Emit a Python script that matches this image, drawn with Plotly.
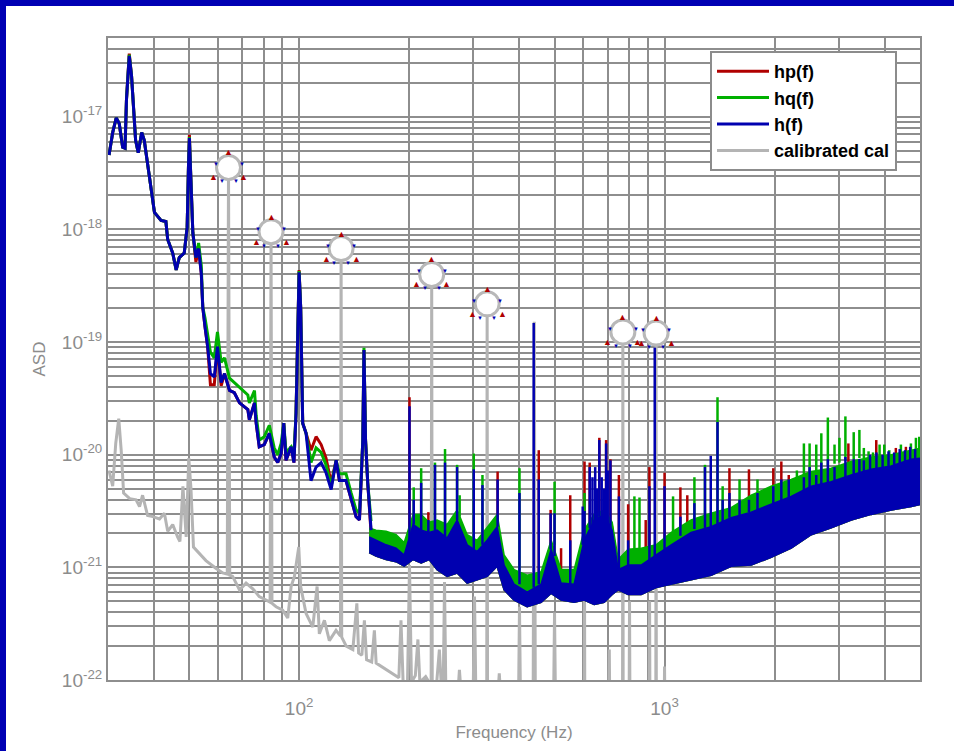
import math
import plotly.graph_objects as go

# ---------------- data (ASD stored as log10 values) ----------------
# Low-frequency part of the three strain spectra (Hz)
lf_freq = [30.2, 30.9, 31.6, 32.2, 32.9, 33.4, 33.7, 34.3, 34.8, 35.2,
           35.7, 36.3, 37.1, 37.7, 38.5, 39.4, 40.2, 41.9, 43.2, 43.7,
           45.1, 46.1, 47.0, 48.5, 49.4, 49.8, 50.1, 50.5, 51.2, 52.2,
           53.1, 54.0, 54.5, 55.3, 56.2, 57.2, 58.6, 59.8, 61.2, 62.5,
           64.5, 66.5, 68.7, 72.4, 73.1, 75.5, 76.3, 77.8, 80.3, 82.9,
           85.5, 87.4, 89.3, 90.8, 92.1, 95.1, 96.8, 98.1, 100.0, 101.0,
           102.3, 104.5, 107.8, 111.3, 114.9, 118.5, 122.4, 126.3, 128.9, 134.4,
           138.8, 143.2, 146.3, 147.9, 149.4, 150.5, 152.0, 154.1, 157.4]
h_lf_log10 = [-17.34, -17.14, -17.01, -17.06, -17.27, -17.28, -16.85, -16.46, -16.64, -16.94,
              -17.21, -17.32, -17.14, -17.21, -17.41, -17.62, -17.85, -17.92, -17.93, -18.09,
              -18.21, -18.36, -18.25, -18.21, -17.98, -17.45, -17.19, -17.50, -18.03, -18.25,
              -18.17, -18.39, -18.69, -18.87, -19.04, -19.28, -19.31, -19.04, -19.36, -19.28,
              -19.43, -19.45, -19.54, -19.60, -19.69, -19.54, -19.72, -19.93, -19.91, -19.81,
              -20.02, -20.07, -19.99, -19.72, -20.05, -19.93, -20.07, -19.63, -18.38, -18.69,
              -19.72, -19.81, -20.23, -20.11, -20.07, -20.16, -20.31, -20.05, -20.23, -20.23,
              -20.40, -20.55, -20.58, -20.16, -19.87, -19.07, -19.87, -20.25, -20.67]
hp_lf_log10 = [-17.34, -17.14, -17.01, -17.06, -17.27, -17.28, -16.85, -16.44, -16.64, -16.94,
               -17.21, -17.32, -17.14, -17.21, -17.41, -17.62, -17.85, -17.92, -17.93, -18.09,
               -18.21, -18.36, -18.25, -18.21, -17.98, -17.45, -17.16, -17.50, -18.03, -18.29,
               -18.17, -18.39, -18.69, -18.87, -19.04, -19.38, -19.38, -19.04, -19.39, -19.28,
               -19.43, -19.45, -19.54, -19.60, -19.69, -19.54, -19.72, -19.93, -19.91, -19.81,
               -20.02, -20.07, -19.99, -19.72, -20.05, -19.93, -20.07, -19.63, -18.36, -18.69,
               -19.72, -19.81, -19.96, -19.84, -19.91, -20.03, -20.25, -20.05, -20.23, -20.23,
               -20.40, -20.55, -20.58, -20.16, -19.87, -19.07, -19.87, -20.25, -20.70]
hq_lf_log10 = [-17.34, -17.14, -17.01, -17.06, -17.27, -17.28, -16.85, -16.45, -16.64, -16.94,
               -17.21, -17.32, -17.14, -17.21, -17.41, -17.62, -17.85, -17.92, -17.93, -18.09,
               -18.21, -18.36, -18.25, -18.21, -17.98, -17.45, -17.18, -17.50, -18.03, -18.25,
               -18.12, -18.32, -18.69, -18.79, -18.95, -19.09, -19.14, -18.91, -19.18, -19.14,
               -19.32, -19.36, -19.41, -19.47, -19.54, -19.43, -19.65, -19.87, -19.84, -19.74,
               -19.94, -20.00, -19.90, -19.72, -19.98, -19.93, -20.00, -19.63, -18.37, -18.69,
               -19.72, -19.81, -20.07, -19.94, -19.98, -20.09, -20.28, -20.05, -20.17, -20.17,
               -20.34, -20.49, -20.52, -20.16, -19.87, -19.05, -19.87, -20.25, -20.59]

# Dense part (155 Hz - 5 kHz): lower / upper edge of each spectrum's noise band
band_freq = [155.5, 162.4, 173.0, 184.3, 193.9, 205.1, 215.8, 226.9, 238.6, 254.1,
             270.7, 288.4, 307.0, 327.0, 348.3, 363.9, 387.6, 420.7, 459.5, 489.5,
             521.2, 565.6, 602.6, 641.8, 683.5, 718.9, 746.5, 795.1, 863.0, 948.5,
             1043, 1182, 1341, 1521, 1726, 1957, 2221, 2519, 2857, 3241,
             3676, 4171, 4731, 5038]
band_low_log10 = [-20.87, -20.90, -20.93, -20.95, -20.99, -20.93, -20.96, -20.93, -21.02, -21.08,
                  -21.05, -21.14, -21.11, -21.08, -20.99, -21.20, -21.29, -21.35, -21.31, -21.23,
                  -21.29, -21.31, -21.29, -21.33, -21.31, -21.24, -21.20, -21.24, -21.24, -21.18,
                  -21.15, -21.11, -21.07, -20.99, -20.98, -20.91, -20.83, -20.71, -20.65, -20.58,
                  -20.53, -20.49, -20.46, -20.44]
h_band_high_log10 = [-20.73, -20.76, -20.80, -20.83, -20.89, -20.62, -20.67, -20.69, -20.67, -20.74,
                     -20.58, -20.80, -20.86, -20.76, -20.64, -20.98, -21.15, -21.22, -21.15, -20.84,
                     -21.14, -21.15, -20.76, -20.58, -20.53, -20.67, -21.02, -20.98, -20.98, -20.89,
                     -20.80, -20.69, -20.64, -20.56, -20.51, -20.44, -20.37, -20.28, -20.24, -20.18,
                     -20.13, -20.10, -20.04, -20.03]
hq_band_high_log10 = [-20.65, -20.67, -20.68, -20.71, -20.78, -20.53, -20.53, -20.60, -20.58, -20.62,
                      -20.49, -20.71, -20.76, -20.65, -20.53, -20.89, -21.02, -21.07, -21.04, -20.76,
                      -21.02, -21.02, -20.67, -20.53, -20.49, -20.60, -20.93, -20.84, -20.83, -20.80,
                      -20.69, -20.58, -20.52, -20.47, -20.36, -20.28, -20.22, -20.15, -20.12, -20.06,
                      -20.02, -20.00, -19.96, -19.94]
hp_band_high_log10 = [-20.71, -20.74, -20.76, -20.80, -20.86, -20.60, -20.65, -20.67, -20.65, -20.71,
                      -20.53, -20.76, -20.83, -20.71, -20.58, -20.93, -21.13, -21.18, -21.11, -20.80,
                      -21.07, -21.11, -20.71, -20.55, -20.51, -20.62, -20.98, -20.93, -20.93, -20.84,
                      -20.76, -20.67, -20.60, -20.52, -20.47, -20.40, -20.33, -20.27, -20.20, -20.16,
                      -20.10, -20.06, -20.02, -20.00]

# Narrow lines (spikes): frequency, top and foot of each line
h_spike_freq = [200.5, 205.9, 215.8, 225.8, 235.4, 250.8, 270.6, 300.6, 317.5, 349.3,
                400.9, 438.5, 452.7, 487.8, 500.0, 552.0, 597.0, 604.0, 624.0, 635.0,
                646.0, 654.0, 663.0, 673.0, 682.0, 692.0, 699.0, 711.0, 750.0, 795.0,
                909.0, 940.0, 1000, 1105, 1207, 1290, 1338, 1396, 1442, 1505,
                1604, 1702, 1796, 1984, 2087, 2187, 2406, 2494, 2601, 2685,
                2798, 2918, 3125, 3293, 3413, 3510, 3650, 3800, 3950, 4100,
                4250, 4400, 4550, 4700, 4850]
h_spike_top_log10 = [-19.57, -20.40, -20.25, -20.58, -20.09, -20.07, -20.11, -20.13, -20.27, -20.22,
                     -20.34, -18.83, -20.22, -20.52, -20.52, -20.76, -20.46, -20.50, -20.11, -20.20,
                     -20.11, -20.30, -19.87, -20.20, -20.30, -19.90, -20.14, -20.05, -20.37, -20.76,
                     -20.28, -19.05, -20.28, -20.55, -20.43, -20.11, -20.01, -19.71, -20.40, -20.34,
                     -20.40, -20.40, -20.34, -20.28, -20.22, -20.22, -20.20, -20.11, -20.18, -20.07,
                     -20.04, -20.11, -20.02, -20.04, -20.04, -20.05, -20.00, -19.98, -20.00, -19.97,
                     -19.98, -19.95, -19.96, -19.93, -19.95]
h_spike_foot_log10 = [-20.75, -20.62, -20.67, -20.69, -20.67, -20.74, -20.58, -20.84, -20.80, -20.64,
                      -21.15, -21.18, -21.15, -20.84, -20.90, -21.15, -20.80, -20.76, -20.65, -20.62,
                      -20.58, -20.57, -20.55, -20.54, -20.53, -20.58, -20.62, -20.67, -21.02, -20.98,
                      -20.95, -20.90, -20.85, -20.72, -20.66, -20.65, -20.64, -20.62, -20.60, -20.56,
                      -20.54, -20.51, -20.49, -20.44, -20.41, -20.38, -20.32, -20.29, -20.27, -20.26,
                      -20.25, -20.23, -20.20, -20.18, -20.16, -20.15, -20.13, -20.12, -20.11, -20.10,
                      -20.09, -20.08, -20.06, -20.05, -20.04]
hp_spike_freq = [200.5, 225.8, 349.3, 452.7, 487.8, 521.0, 552.0, 604.0, 624.0, 663.0,
                 692.0, 711.0, 750.0, 795.0, 888.0, 909.0, 1000, 1105, 1154, 1505,
                 1702, 1984, 2087, 2187, 3184, 3796, 4294, 4575]
hp_spike_top_log10 = [-19.49, -20.51, -20.15, -19.96, -20.49, -20.83, -20.36, -20.06, -20.07, -19.85,
                      -19.87, -20.04, -20.18, -20.44, -20.58, -20.11, -20.16, -20.29, -20.36, -20.12,
                      -20.13, -20.12, -20.06, -20.18, -19.90, -19.87, -19.94, -19.93]
hp_spike_foot_log10 = [-20.75, -20.67, -20.60, -21.11, -20.82, -21.07, -21.10, -20.70, -20.60, -20.55,
                       -20.55, -20.60, -21.00, -21.00, -21.00, -20.95, -20.80, -20.72, -20.70, -20.53,
                       -20.47, -20.41, -20.38, -20.36, -20.15, -20.07, -20.03, -20.01]
hq_spike_freq = [205.9, 215.8, 235.4, 250.8, 270.6, 275.0, 300.6, 317.5, 400.9, 500.0,
                 604.0, 827.0, 854.0, 1055, 1207, 1290, 1396, 1442, 1604, 1796,
                 2302, 2406, 2494, 2601, 2685, 2798, 2918, 3010, 3125, 3293,
                 3413, 3510, 3616, 3718, 3876, 3991, 4120, 4433, 4722, 4873, 4977]
hq_spike_top_log10 = [-20.29, -20.12, -20.07, -19.95, -20.09, -20.36, -19.99, -20.18, -20.12, -20.24,
                      -20.34, -20.37, -20.38, -20.37, -20.20, -20.09, -19.49, -20.28, -20.22, -20.22,
                      -20.14, -19.90, -19.90, -19.91, -19.81, -19.67, -19.91, -19.85, -19.66, -19.80,
                      -19.78, -19.94, -19.97, -19.98, -19.91, -19.91, -19.96, -19.91, -19.90, -19.85, -19.84]
hq_spike_foot_log10 = [-20.53, -20.53, -20.58, -20.62, -20.49, -20.55, -20.74, -20.70, -21.03, -20.80,
                       -20.60, -20.85, -20.85, -20.68, -20.57, -20.55, -20.53, -20.52, -20.43, -20.34,
                       -20.24, -20.21, -20.19, -20.15, -20.13, -20.10, -20.08, -20.07, -20.05, -20.04,
                       -20.03, -20.03, -20.02, -20.02, -20.01, -20.01, -20.00, -19.98, -19.96, -19.95, -19.94]

# Calibrated calibration-line spectrum
cal_freq = [30.2, 30.9, 31.5, 32.1, 32.6, 33.1, 34.4, 35.8, 36.6, 37.3,
            38.5, 39.8, 41.5, 42.8, 43.7, 45.1, 46.5, 47.2, 48.1, 49.1,
            49.9, 50.6, 51.4, 53.3, 55.6, 59.3, 61.8, 63.6, 64.1, 64.6,
            65.8, 68.7, 71.6, 74.7, 77.8, 81.2, 83.3, 83.8, 84.3, 86.5,
            90.2, 93.1, 95.1, 97.1, 99.8, 101.0, 104.5, 109.0, 112.0, 113.6,
            117.3, 121.0, 126.2, 129.8, 130.3, 130.8, 134.6, 140.3, 143.9, 145.5,
            148.5, 150.9, 153.0, 158.0, 160.7, 162.5, 168.0, 173.0, 180.0, 187.5,
            190.0, 192.5, 198.0, 200.5, 203.0, 208.0, 211.4, 214.0, 222.0, 229.8,
            230.6, 231.4, 238.0, 242.0, 245.0, 248.0, 250.0, 252.0, 265.0, 272.5,
            274.6, 277.0, 299.5, 302.0, 304.5, 326.2, 327.0, 327.8, 350.5, 353.0,
            355.5, 398.5, 400.9, 403.5, 437.0, 440.0, 443.0, 497.0, 500.0, 503.0,
            603.0, 604.0, 605.0, 704.0, 706.0, 708.0, 767.5, 769.0, 770.5, 800.0,
            802.0, 804.0, 908.0, 910.0, 912.0, 946.5, 948.0, 949.5, 998.0, 1000.0,
            1002.0, 1100.0]
cal_log10 = [-20.14, -20.28, -19.90, -19.68, -19.96, -20.34, -20.39, -20.40, -20.46, -20.36,
             -20.54, -20.55, -20.57, -20.52, -20.68, -20.62, -20.73, -20.77, -20.28, -20.73,
             -20.03, -20.30, -20.82, -20.88, -20.94, -21.01, -21.05, -21.06, -17.45, -21.07,
             -21.08, -21.20, -21.14, -21.19, -21.26, -21.29, -21.31, -18.02, -21.32, -21.35,
             -21.38, -21.45, -21.17, -21.08, -20.82, -21.17, -21.41, -21.53, -21.17, -21.59,
             -21.47, -21.65, -21.56, -21.61, -18.17, -21.62, -21.70, -21.73, -21.32, -21.76,
             -21.78, -21.47, -21.82, -21.84, -21.56, -21.85, -21.88, -21.91, -21.95, -21.98,
             -21.47, -22.00, -22.02, -20.98, -22.02, -21.96, -21.64, -22.02, -21.97, -22.05,
             -18.40, -22.05, -22.02, -21.73, -22.05, -22.05, -21.13, -22.05, -22.05, -22.08,
             -21.91, -22.08, -22.10, -21.26, -22.10, -22.10, -18.66, -22.10, -22.10, -21.94,
             -22.10, -22.20, -21.35, -22.20, -22.20, -18.82, -22.20, -22.20, -21.40, -22.20,
             -22.20, -21.10, -22.20, -22.20, -21.73, -22.20, -22.20, -18.91, -22.20, -22.20,
             -21.30, -22.20, -22.20, -21.30, -22.20, -22.20, -18.92, -22.20, -22.20, -21.88,
             -22.20, -22.20]

# Injected calibration lines (circled)
cal_line_freq = [64.1, 83.8, 130.3, 230.6, 327.0, 769.0, 948.0]
cal_line_log10 = [-17.45, -18.02, -18.17, -18.40, -18.66, -18.91, -18.92]

series_names = ["hp(f)", "hq(f)", "h(f)", "calibrated cal"]

# axis ticks / grid
x_grid_vals = [30, 40, 50, 60, 70, 80, 90, 100, 200, 300, 400, 500, 600, 700, 800, 900,
               1000, 2000, 3000, 4000, 5000]
x_label_vals = {100: "10<sup>2</sup>", 1000: "10<sup>3</sup>"}
y_decades = [-22, -21, -20, -19, -18, -17]
y_top = 5e-17

# ---------------- styling ----------------
W, H = 954, 751
ML, MR, MT, MB = 108, 34, 38, 71
PW, PH = W - ML - MR, H - MT - MB
RED, GREEN, BLUE, GRAY = "#b00000", "#00b000", "#0000b0", "#b4b4b4"
GRID = "#8e8e8e"
TXT = "#8c8c8c"
FONT = "Liberation Sans, Arial, sans-serif"


def asd(vals):
    return [10.0 ** v for v in vals]


def spikes(freq, top, foot):
    xs, ys = [], []
    for f, t, b in zip(freq, top, foot):
        xs += [f, f, None]
        ys += [10.0 ** b, 10.0 ** t, None]
    return xs, ys


def px_x(px):
    return (px - ML) / PW


def px_y(py):
    return (H - MB - py) / PH


fig = go.Figure()

# calibrated cal (behind)
fig.add_trace(go.Scatter(x=cal_freq, y=asd(cal_log10), mode="lines",
                         line=dict(color=GRAY, width=3), name=series_names[3],
                         legendgroup="cal", legendrank=4, hoverinfo="skip"))

groups = [
    (series_names[0], RED, hp_lf_log10, hp_band_high_log10, hp_spike_freq, hp_spike_top_log10, hp_spike_foot_log10, 1),
    (series_names[1], GREEN, hq_lf_log10, hq_band_high_log10, hq_spike_freq, hq_spike_top_log10, hq_spike_foot_log10, 2),
    (series_names[2], BLUE, h_lf_log10, h_band_high_log10, h_spike_freq, h_spike_top_log10, h_spike_foot_log10, 3),
]
for name, color, lf, hi, sf, st, sb, rank in groups:
    fig.add_trace(go.Scatter(x=band_freq + band_freq[::-1],
                             y=asd(hi) + asd(band_low_log10)[::-1],
                             mode="lines", fill="toself", fillcolor=color,
                             line=dict(color=color, width=1.5),
                             showlegend=False, legendgroup=name, hoverinfo="skip"))
    sx, sy = spikes(sf, st, sb)
    fig.add_trace(go.Scatter(x=sx, y=sy, mode="lines", line=dict(color=color, width=2.5),
                             showlegend=False, legendgroup=name, hoverinfo="skip"))
    fig.add_trace(go.Scatter(x=lf_freq, y=asd(lf), mode="lines",
                             line=dict(color=color, width=3), name=name,
                             legendgroup=name, legendrank=rank, hoverinfo="skip"))

# circles around the calibration lines
fig.add_trace(go.Scatter(x=cal_line_freq, y=asd(cal_line_log10), mode="markers",
                         marker=dict(symbol="circle", size=24, color="white",
                                     line=dict(color="#b8b8b8", width=3)),
                         showlegend=False, hoverinfo="skip"))

annotations = []
for f, v in zip(cal_line_freq, cal_line_log10):
    lx = math.log10(f)
    for txt, col, size, dx, dy in [("▲", RED, 9, 0, 15), ("▲", RED, 9, -15, -10), ("▲", RED, 9, 15, -10),
                                   ("▼", BLUE, 6, -13, 3), ("▼", BLUE, 6, 13, 3),
                                   ("▼", BLUE, 6, -7, -14), ("▼", BLUE, 6, 7, -14)]:
        annotations.append(dict(x=lx, y=v, xref="x", yref="y", text=txt, showarrow=False,
                                font=dict(color=col, size=size), xshift=dx, yshift=dy))

y_tick_vals, y_tick_text = [], []
for e in y_decades:
    for m in range(1, 10):
        val = m * 10.0 ** e
        if val <= y_top * 1.001:
            y_tick_vals.append(val)
            y_tick_text.append("10<sup>%d</sup>" % e if m == 1 else "")
x_tick_text = [x_label_vals.get(v, "") for v in x_grid_vals]

# blue frame (left and top strips)
shapes = [
    dict(type="rect", xref="paper", yref="paper", layer="above", line=dict(width=0),
         fillcolor="#0000b4", x0=px_x(0), x1=px_x(6), y0=px_y(H), y1=px_y(0)),
    dict(type="rect", xref="paper", yref="paper", layer="above", line=dict(width=0),
         fillcolor="#0000b4", x0=px_x(0), x1=px_x(W), y0=px_y(6), y1=px_y(0)),
]

fig.update_layout(
    width=W, height=H, autosize=False,
    margin=dict(l=ML, r=MR, t=MT, b=MB, pad=0),
    paper_bgcolor="white", plot_bgcolor="white",
    font=dict(family=FONT, color=TXT),
    showlegend=True,
    legend=dict(x=px_x(710), y=px_y(51), xanchor="left", yanchor="top",
                bgcolor="white", bordercolor="#8c8c8c", borderwidth=2,
                font=dict(family=FONT, size=18, color="black", weight="bold"),
                itemwidth=52, tracegroupgap=18, traceorder="normal"),
    xaxis=dict(type="log", range=[math.log10(30), math.log10(5000)],
               tickvals=x_grid_vals, ticktext=x_tick_text, ticks="",
               ticklabelstandoff=10,
               showgrid=True, gridcolor=GRID, gridwidth=1.5,
               showline=True, mirror=True, linecolor=GRID, linewidth=2,
               tickfont=dict(family=FONT, size=19, color=TXT),
               title=dict(text="Frequency (Hz)", font=dict(family=FONT, size=17, color=TXT), standoff=8),
               automargin=False, zeroline=False),
    yaxis=dict(type="log", range=[-22, math.log10(y_top)],
               tickvals=y_tick_vals, ticktext=y_tick_text, ticks="",
               showgrid=True, gridcolor=GRID, gridwidth=1.5,
               showline=True, mirror=True, linecolor=GRID, linewidth=2,
               tickfont=dict(family=FONT, size=19, color=TXT),
               title=dict(text="ASD", font=dict(family=FONT, size=17, color=TXT), standoff=12),
               automargin=False, zeroline=False),
    annotations=annotations,
    shapes=shapes,
)

fig.write_html("out.html", config={"displayModeBar": False},
               post_script="document.body.style.margin='0px';"
                           "document.documentElement.style.overflow='hidden';"
                           "document.body.style.overflow='hidden';")
